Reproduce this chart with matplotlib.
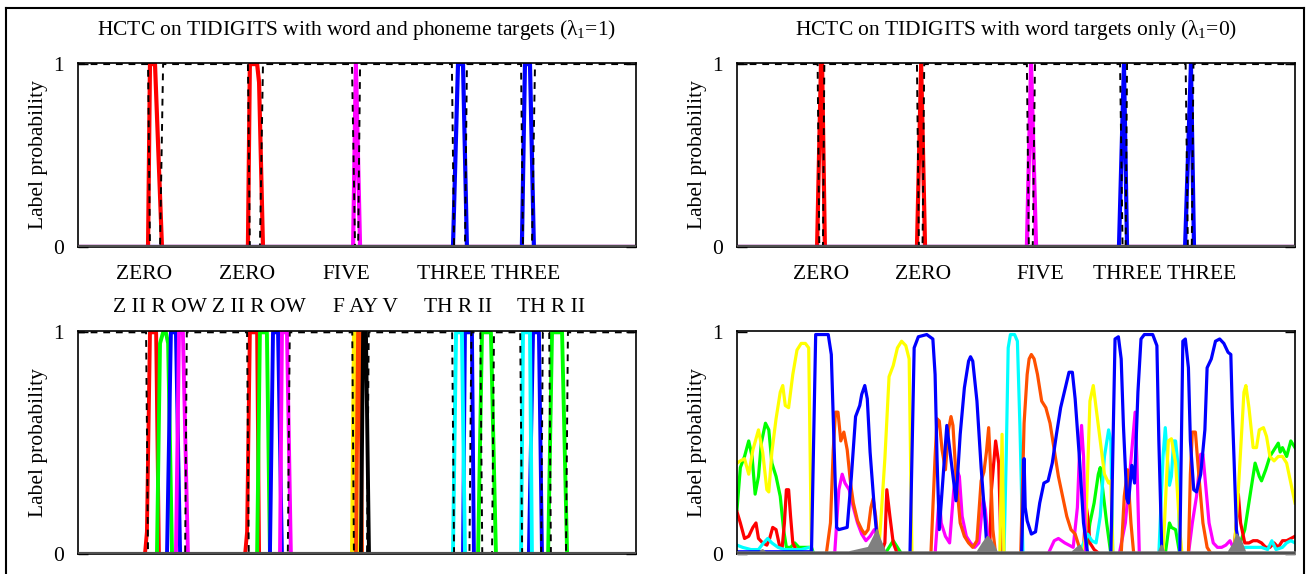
import matplotlib
matplotlib.use("Agg")
import matplotlib.pyplot as plt
from matplotlib.lines import Line2D

plt.rcParams['font.family'] = ['Liberation Serif', 'DejaVu Serif']
plt.rcParams['mathtext.fontset'] = 'custom'
plt.rcParams['mathtext.rm'] = 'Liberation Serif'
plt.rcParams['mathtext.it'] = 'Liberation Serif'

# ---------------- data (frame index, label probability) ----------------
# top left: word targets of the phoneme+word model
p1_red_x = [0, 25.1, 25.8, 27.6, 30.1, 60.9, 61.6, 64.2, 64.9, 66.3, 200]
p1_red_y = [0, 0, 1, 1, 0, 0, 1, 1, 0.9, 0, 0]
p1_mag_x = [0, 98.6, 99.6, 101.1, 200]
p1_mag_y = [0, 0, 1, 0, 0]
p1_blue_x = [0, 134.4, 136.2, 138.0, 139.4, 159.1, 160.2, 162.0, 163.4, 200]
p1_blue_y = [0, 0, 1, 1, 0, 0, 1, 1, 0, 0]
p1_blank_x = [0, 25.1, 25.8, 29.4, 30.5, 60.9, 61.6, 65.2, 66.3, 98.2, 99.3, 100.4,
              101.1, 134.0, 134.8, 138.7, 139.4, 158.8, 159.5, 162.7, 163.8, 200]
p1_blank_y = [1, 1, 0, 0, 1, 1, 0, 0, 1, 1, 0, 0, 1, 1, 0, 0, 1, 1, 0, 0, 1, 1]

# top right: word-only model
p2_red_x = [0, 28.7, 30.1, 30.5, 31.5, 64.5, 66.0, 67.4, 200]
p2_red_y = [0, 0, 1, 1, 0, 0, 1, 0, 0]
p2_mag_x = [0, 103.9, 105.4, 107.2, 200]
p2_mag_y = [0, 0, 1, 0, 0]
p2_blue_x = [0, 136.9, 138.7, 139.8, 160.6, 162.7, 163.8, 200]
p2_blue_y = [0, 0, 1, 0, 0, 1, 0, 0]
p2_blank_x = [0, 28.9, 29.5, 30.8, 31.3, 64.5, 65.2, 66.5, 67.1, 103.9, 104.6, 106.0,
              106.8, 137.3, 138.2, 139.3, 139.8, 160.8, 161.6, 163.0, 163.6, 200]
p2_blank_y = [1, 1, 0, 0, 1, 1, 0, 0, 1, 1, 0, 0, 1, 1, 0, 0, 1, 1, 0, 0, 1, 1]

# bottom left: phoneme targets of the phoneme+word model
p3_red_x = [0, 24.0, 24.7, 25.8, 28.0, 29.0, 59.9, 60.6, 61.6, 64.2, 64.9, 200]
p3_red_y = [0, 0, 0.1, 1, 1, 0, 0, 0.1, 1, 1, 0, 0]
p3_green_x = [0, 28.3, 29.4, 30.5, 31.5, 32.3, 33.7, 64.2, 65.2, 67.7, 68.8,
              143.4, 144.8, 148.0, 149.8, 168.5, 169.9, 173.5, 175.3, 200]
p3_green_y = [0, 0, 0.95, 1, 1, 0.95, 0, 0, 1, 1, 0, 0, 1, 1, 0, 0, 1, 1, 0, 0]
p3_blue_x = [0, 31.9, 33.3, 35.1, 36.6, 68.8, 69.9, 71.7, 73.1,
             138.0, 138.7, 141.2, 141.9, 161.6, 163.1, 165.2, 166.3, 200]
p3_blue_y = [0, 0, 1, 1, 0, 0, 1, 1, 0, 0, 1, 1, 0, 0, 1, 1, 0, 0]
p3_mag_x = [0, 35.1, 36.2, 37.6, 39.4, 72.4, 73.1, 74.9, 76.3, 200]
p3_mag_y = [0, 0, 1, 1, 0, 0, 1, 1, 0, 0]
p3_yellow_x = [0, 98.2, 98.9, 99.6, 100.0, 200]
p3_yellow_y = [0, 0, 1, 1, 0, 0]
p3_orange_x = [0, 99.6, 100.4, 101.1, 101.8, 200]
p3_orange_y = [0, 0, 1, 1, 0, 0]
p3_black_x = [0, 101.4, 102.2, 103.2, 104.3, 200]
p3_black_y = [0, 0, 1, 1, 0, 0]
p3_cyan_x = [0, 134.4, 135.5, 137.6, 138.7, 158.8, 159.5, 162.0, 162.7, 200]
p3_cyan_y = [0, 0, 1, 1, 0, 0, 1, 1, 0, 0]
p3_blank_x = [0, 24.4, 25.1, 38.4, 39.0, 60.6, 61.2, 75.2, 75.9, 98.3, 98.9, 103.6,
              104.2, 134.1, 134.8, 140.3, 141.0, 144.2, 144.9, 148.4, 149.1,
              158.5, 159.2, 166.0, 166.6, 168.9, 169.5, 174.9, 175.6, 200]
p3_blank_y = [1, 1, 0, 0, 1, 1, 0, 0, 1, 1, 0, 0, 1, 1, 0, 0, 1, 1, 0, 0, 1,
              1, 0, 0, 1, 1, 0, 0, 1, 1]

# bottom right: word-only model, phoneme outputs
p4_green_x = [0, 1.2, 2.7, 4.2, 5.4, 6.5, 7.7, 8.7, 10.2, 11.4, 12.5, 14, 15.5, 16.7,
              17.7, 19.2, 20.7, 22.2, 24.5, 26.7, 27.5, 53, 54.5, 56, 57.5, 59,
              125, 126.5, 128, 129.5, 130.2, 131, 132.5, 134, 153.5, 155, 155.7,
              157.2, 158.7, 179, 182, 184.2, 185.7, 187.2, 188, 189.5, 191, 192.5,
              194, 194.7, 195.5, 197, 198.5, 200]
p4_green_y = [0.2, 0.39, 0.44, 0.51, 0.44, 0.27, 0.35, 0.5, 0.59, 0.56, 0.41, 0.35,
              0.26, 0.11, 0.03, 0.03, 0.05, 0.03, 0.03, 0.03, 0.0, 0.0, 0.03, 0.06,
              0.03, 0.0, 0.0, 0.14, 0.23, 0.36, 0.39, 0.3, 0.14, 0.0, 0.0, 0.14,
              0.12, 0.11, 0.0, 0.0, 0.11, 0.29, 0.41, 0.35, 0.33, 0.38, 0.44, 0.47,
              0.5, 0.46, 0.48, 0.44, 0.51, 0.48]
p4_red_x = [0, 1.2, 2.7, 4.2, 5.7, 6.8, 7.7, 9.2, 10.7, 11.7, 12.8, 14, 15.2, 16.2,
            17, 17.7, 18.5, 19.2, 20, 21.5, 23, 51.5, 53, 53.7, 54.8, 56, 57.5,
            90.5, 91.2, 92.7, 93.8, 94.7, 124.2, 125, 125.7, 126.5, 128, 130,
            178, 179, 179.7, 180.5, 182, 183.5, 185, 186.5, 188, 189.5, 191,
            192.5, 194, 195.5, 197, 198.5, 200]
p4_red_y = [0.19, 0.14, 0.07, 0.08, 0.12, 0.14, 0.07, 0.05, 0.04, 0.07, 0.12, 0.11,
            0.04, 0.03, 0.14, 0.29, 0.29, 0.17, 0.05, 0.01, 0.0, 0.0, 0.05, 0.29,
            0.17, 0.05, 0.0, 0.0, 0.29, 0.51, 0.41, 0.0, 0.0, 0.23, 0.17, 0.05,
            0.02, 0.0, 0.0, 0.14, 0.27, 0.14, 0.05, 0.05, 0.06, 0.06, 0.05, 0.03,
            0.03, 0.05, 0.03, 0.06, 0.06, 0.07, 0.08]
p4_cyan_x = [0, 2, 5, 7.7, 9.5, 11, 12.5, 14.7, 17, 20, 23, 26, 27.5, 95.7, 96.5,
             97.2, 98, 99.5, 100.5, 101.4, 102.5, 122.7, 124.2, 125.7, 127.2,
             128.7, 130.2, 131.7, 133.2, 134, 134.7, 151.2, 152.7, 153.5, 154.2,
             155, 155.7, 156.5, 157.2, 158, 158.7, 179, 182, 184.2, 186.5, 188,
             190.2, 191.7, 193.2, 195.5, 197, 198.5, 200]
p4_cyan_y = [0.04, 0.03, 0.02, 0.02, 0.05, 0.07, 0.05, 0.03, 0.02, 0.02, 0.02, 0.03,
             0.0, 0.0, 0.44, 0.93, 0.99, 0.99, 0.96, 0.58, 0.0, 0.0, 0.05, 0.09,
             0.06, 0.05, 0.17, 0.44, 0.56, 0.51, 0.0, 0.0, 0.44, 0.57, 0.44, 0.31,
             0.35, 0.51, 0.51, 0.41, 0.0, 0.0, 0.03, 0.03, 0.03, 0.03, 0.02, 0.06,
             0.02, 0.03, 0.05, 0.06, 0.05]
p4_yellow_x = [0, 1.2, 2.7, 4.2, 5.7, 7.7, 9.2, 10.7, 11.4, 12.5, 14, 15.5, 16.4,
               17.3, 18.5, 20, 21.5, 23, 24.5, 25.7, 26.7, 50.7, 51.5, 53, 54.5,
               56, 57.5, 59, 60.5, 61.7, 62.7, 94.2, 95, 95.7, 124.2, 125, 126.5,
               127.7, 128.7, 130.2, 131.7, 133.2, 134, 134.7, 152.7, 154.6, 155.7,
               157.2, 158.7, 159.5, 178.2, 179.7, 181.7, 182.4, 183.5, 185, 186.2,
               187.2, 188.7, 189.8, 191, 192.5, 194, 195.5, 197, 198.5, 200]
p4_yellow_y = [0.41, 0.42, 0.43, 0.36, 0.47, 0.56, 0.46, 0.29, 0.28, 0.46, 0.61, 0.73,
               0.76, 0.67, 0.66, 0.81, 0.92, 0.95, 0.95, 0.93, 0.0, 0.0, 0.14, 0.43,
               0.8, 0.85, 0.93, 0.96, 0.94, 0.88, 0.0, 0.0, 0.54, 0.0, 0.0, 0.11,
               0.69, 0.76, 0.66, 0.51, 0.36, 0.32, 0.33, 0.0, 0.0, 0.51, 0.52, 0.41,
               0.11, 0.0, 0.0, 0.29, 0.73, 0.76, 0.66, 0.48, 0.48, 0.56, 0.57, 0.53,
               0.44, 0.42, 0.44, 0.44, 0.41, 0.32, 0.23]
p4_mag_x = [0, 35, 36.5, 37.7, 38.7, 40.2, 41.7, 43.2, 44.7, 46.2, 47.7, 49.2, 50,
            51.5, 71, 72.5, 73.2, 74.7, 76.2, 77.7, 78.8, 79.7, 80.7, 82.2, 83.7,
            85.2, 86.7, 88.2, 89, 90.5, 111.5, 113.7, 115.2, 117.5, 120.5, 122,
            122.7, 123.5, 124.2, 125, 137, 139.2, 140.7, 141.8, 142.7, 143.3,
            144.2, 161.8, 163.2, 164.7, 166.2, 167, 167.7, 169.2, 170.7, 172.2,
            173.7, 175.2, 176.7, 178.2, 180, 200]
p4_mag_y = [0, 0, 0.29, 0.36, 0.32, 0.29, 0.21, 0.14, 0.09, 0.06, 0.08, 0.11, 0.09,
            0.0, 0.0, 0.26, 0.14, 0.08, 0.05, 0.29, 0.38, 0.35, 0.17, 0.08, 0.05,
            0.03, 0.05, 0.25, 0.2, 0.0, 0.0, 0.06, 0.07, 0.05, 0.03, 0.21, 0.44,
            0.58, 0.44, 0.0, 0.0, 0.14, 0.35, 0.51, 0.64, 0.44, 0.0, 0.0, 0.14,
            0.26, 0.45, 0.45, 0.35, 0.14, 0.05, 0.03, 0.03, 0.04, 0.06, 0.02, 0.0, 0.0]
p4_orange_x = [0, 32, 33.5, 34.5, 35.3, 36.2, 37.2, 38.3, 39.5, 40.7, 41.7, 43.2,
               44.7, 45.8, 47, 48, 48.8, 49.7, 50.7, 52.2, 69.5, 71, 71.7, 72.5,
               73.5, 74.7, 75.8, 76.7, 77.4, 78.5, 80, 81.5, 83, 84.5, 86, 87.5,
               88.5, 89.4, 90.2, 90.8, 91.7, 92.7, 101.7, 102.9, 104, 104.7, 105.5,
               106.5, 107.7, 109.2, 110.7, 112.2, 113.7, 115.2, 116.7, 118.2,
               119.7, 121.2, 122.7, 123.5, 137.7, 138.8, 140, 141.2, 142.2, 161.8,
               162.5, 163.2, 164.3, 165.5, 167, 168.5, 170, 200]
p4_orange_y = [0, 0, 0.14, 0.47, 0.64, 0.64, 0.51, 0.55, 0.47, 0.32, 0.23, 0.15,
               0.11, 0.09, 0.11, 0.21, 0.25, 0.17, 0.03, 0.0, 0.0, 0.44, 0.61, 0.6,
               0.47, 0.38, 0.56, 0.62, 0.58, 0.35, 0.14, 0.08, 0.05, 0.03, 0.06,
               0.33, 0.37, 0.46, 0.57, 0.41, 0.11, 0.0, 0.0, 0.59, 0.81, 0.88, 0.9,
               0.88, 0.81, 0.69, 0.66, 0.59, 0.47, 0.35, 0.26, 0.17, 0.11, 0.09,
               0.03, 0.0, 0.0, 0.26, 0.38, 0.14, 0.0, 0.0, 0.36, 0.55, 0.55, 0.36,
               0.14, 0.03, 0.0, 0.0]
p4_blue_x = [0, 26.7, 28.2, 32.7, 33.8, 35.7, 36.5, 39.5, 41, 42.5, 44, 44.7, 45.8,
             46.7, 47.7, 49.2, 50.7, 62, 63.5, 65, 68, 70.2, 71, 71.7, 72.5, 75.2,
             78.5, 80, 81.5, 83, 83.7, 84.5, 86, 87.5, 89, 89.7, 102, 102.9, 103.3,
             104, 105.5, 107, 108.5, 110, 111.5, 113, 114.5, 116, 117.5, 119,
             120.2, 121.2, 122.7, 124.2, 125.7, 134, 135.5, 136.7, 137.7, 138.5,
             139.7, 140.3, 141.5, 142.5, 143.7, 144.8, 146, 149, 150.5, 151.2,
             152.3, 158.7, 159.8, 160.7, 161.8, 162.5, 163.7, 164.7, 166.2, 167.7,
             168.5, 170, 171.5, 173, 174.5, 176, 177, 177.5, 178.2, 179, 180.5, 200]
p4_blue_y = [0.01, 0.01, 0.99, 0.99, 0.9, 0.12, 0.11, 0.12, 0.35, 0.62, 0.67, 0.72,
             0.76, 0.7, 0.46, 0.21, 0.0, 0.0, 0.93, 0.98, 0.99, 0.97, 0.81, 0.43,
             0.11, 0.58, 0.24, 0.54, 0.75, 0.87, 0.89, 0.87, 0.69, 0.39, 0.14, 0.0,
             0.0, 0.43, 0.21, 0.15, 0.09, 0.1, 0.23, 0.32, 0.33, 0.41, 0.54, 0.66,
             0.74, 0.82, 0.82, 0.7, 0.44, 0.14, 0.0, 0.0, 0.97, 0.98, 0.88, 0.58,
             0.25, 0.23, 0.4, 0.32, 0.73, 0.97, 0.99, 0.99, 0.94, 0.51, 0.0, 0.0,
             0.96, 0.97, 0.84, 0.51, 0.29, 0.28, 0.36, 0.56, 0.84, 0.88, 0.96, 0.97,
             0.95, 0.91, 0.9, 0.66, 0.41, 0.11, 0.0, 0.0]
p4_gray_x = [0, 8, 9, 10, 40, 47, 49, 50, 51, 53, 86, 88, 89.7, 91, 93, 120, 122.7,
             124, 151, 152, 153, 176, 178, 179, 180.5, 182, 200]
p4_gray_y = [0.01, 0.01, 0.02, 0.01, 0.01, 0.03, 0.08, 0.11, 0.07, 0.01, 0.01, 0.05,
             0.08, 0.06, 0.01, 0.01, 0.04, 0.01, 0.01, 0.04, 0.01, 0.01, 0.05,
             0.09, 0.06, 0.01, 0.01]

# labels
titles = ["HCTC on TIDIGITS with word and phoneme targets (λ$_1$=1)",
          "HCTC on TIDIGITS with word targets only (λ$_1$=0)"]
p1_words = ["ZERO", "ZERO", "FIVE", "THREE THREE"]
p1_word_x = [23.7, 60.6, 96.0, 147.3]
p2_words = ["ZERO", "ZERO", "FIVE", "THREE THREE"]
p2_word_x = [30.1, 66.7, 108.6, 153.4]
p3_phones = ["Z II R OW Z II R OW", "F AY V", "TH R II", "TH R II"]
p3_phone_x = [47.0, 102.9, 136.2, 169.5]

# ---------------- figure ----------------
W, H = 1307, 574
fig = plt.figure(figsize=(W / 100, H / 100), dpi=100)


def make_axes(left_px, top_px, right_px, bottom_px):
    ax = fig.add_axes([left_px / W, 1 - bottom_px / H,
                       (right_px - left_px) / W, (bottom_px - top_px) / H])
    ax.set_xlim(0, 200)
    ax.set_ylim(0, 1.006)
    ax.set_xticks([])
    ax.set_yticks([0, 1])
    ax.set_yticklabels(["0", "1"])
    ax.tick_params(axis='y', direction='in', right=True, length=7, width=1,
                   labelsize=15.5, pad=10)
    for s in ax.spines.values():
        s.set_linewidth(1.2)
    ax.set_ylabel("Label probability", fontsize=15.5, labelpad=4)
    ax.axhline(0, color='#505050', lw=3, zorder=6)
    return ax


ax1 = make_axes(78, 63, 636, 247)
ax2 = make_axes(737, 63, 1295, 247)
ax3 = make_axes(78, 331, 636, 554)
ax4 = make_axes(737, 331, 1295, 554)

dash = (0, (3.5, 3))

# top left
ax1.plot(p1_red_x, p1_red_y, color='#ff0000', lw=3)
ax1.plot(p1_mag_x, p1_mag_y, color='#ff00ff', lw=3)
ax1.plot(p1_blue_x, p1_blue_y, color='#0000ff', lw=3)
ax1.plot(p1_blank_x, p1_blank_y, color='k', lw=1.4, ls=dash, zorder=5)

# top right
ax2.plot(p2_red_x, p2_red_y, color='#ff0000', lw=3)
ax2.plot(p2_mag_x, p2_mag_y, color='#ff00ff', lw=3)
ax2.plot(p2_blue_x, p2_blue_y, color='#0000ff', lw=3)
ax2.plot(p2_blank_x, p2_blank_y, color='k', lw=1.4, ls=dash, zorder=5)

# bottom left
ax3.plot(p3_red_x, p3_red_y, color='#ff0000', lw=2.8)
ax3.plot(p3_green_x, p3_green_y, color='#00ff00', lw=2.8)
ax3.plot(p3_blue_x, p3_blue_y, color='#0000ff', lw=2.8)
ax3.plot(p3_mag_x, p3_mag_y, color='#ff00ff', lw=2.8)
ax3.plot(p3_cyan_x, p3_cyan_y, color='#00ffff', lw=2.8)
ax3.plot(p3_yellow_x, p3_yellow_y, color='#ffee00', lw=2.8)
ax3.plot(p3_orange_x, p3_orange_y, color='#ff4400', lw=2.8)
ax3.plot(p3_black_x, p3_black_y, color='k', lw=2.8)
ax3.plot(p3_blank_x, p3_blank_y, color='k', lw=1.4, ls=dash, zorder=5)

# bottom right
lw4 = 2.3
ax4.plot(p4_green_x, p4_green_y, color='#00ff00', lw=lw4)
ax4.plot(p4_red_x, p4_red_y, color='#ff0000', lw=lw4)
ax4.plot(p4_cyan_x, p4_cyan_y, color='#00ffff', lw=lw4)
ax4.plot(p4_yellow_x, p4_yellow_y, color='#ffff00', lw=lw4)
ax4.plot(p4_mag_x, p4_mag_y, color='#ff00ff', lw=lw4)
ax4.plot(p4_orange_x, p4_orange_y, color='#ff5000', lw=lw4)
ax4.plot(p4_blue_x, p4_blue_y, color='#0000ff', lw=lw4)
ax4.fill_between(p4_gray_x, 0, p4_gray_y, color='#808080', lw=1.5, zorder=4)

# titles and word / phoneme labels
ax1.set_title(titles[0], fontsize=15.5, pad=20)
ax2.set_title(titles[1], fontsize=15.5, pad=20)
for txt, x in zip(p1_words, p1_word_x):
    ax1.text(x, -0.148, txt, transform=ax1.get_xaxis_transform(),
             ha='center', va='center', fontsize=15.5)
for txt, x in zip(p2_words, p2_word_x):
    ax2.text(x, -0.148, txt, transform=ax2.get_xaxis_transform(),
             ha='center', va='center', fontsize=15.5)
for txt, x in zip(p3_phones, p3_phone_x):
    ax3.text(x, 1.105, txt, transform=ax3.get_xaxis_transform(),
             ha='center', va='center', fontsize=15.5)

# outer frame
for xs, ys in [([6, 1304], [8, 8]), ([6, 6], [8, 574]), ([1304, 1304], [8, 574])]:
    fig.add_artist(Line2D([x / W for x in xs], [1 - y / H for y in ys],
                          transform=fig.transFigure, color='k', lw=1.5))

fig.savefig("out.png", dpi=100)
